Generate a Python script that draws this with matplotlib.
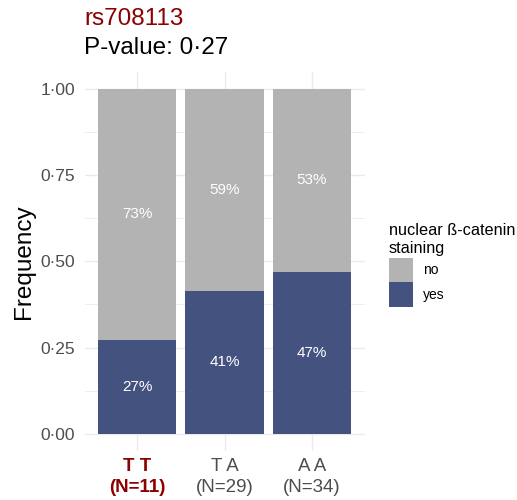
import numpy as np
import matplotlib.pyplot as plt
from matplotlib.patches import Patch
from matplotlib.ticker import FixedLocator

plt.rcParams['font.family'] = ['Liberation Sans', 'DejaVu Sans']

genotypes = ["T T", "T A", "A A"]
n_total = [11, 29, 34]
n_yes = [3, 12, 16]
snp = "rs708113"
p_value = 0.27

GREY = "#B3B3B3"
NAVY = "#44527F"
DARKRED = "#8B0000"
GRID = "#EBEBEB"

frac_yes = np.array(n_yes) / np.array(n_total)
frac_no = 1 - frac_yes
x = np.arange(1, len(genotypes) + 1)

fig = plt.figure(figsize=(5.17, 5.0), dpi=100)
ax = fig.add_axes([84.5 / 517, 49 / 500, 280 / 517, 379.25 / 500])

ax.bar(x, frac_yes, width=0.9, color=NAVY, zorder=2)
ax.bar(x, frac_no, bottom=frac_yes, width=0.9, color=GREY, zorder=2)

for xi, y, n in zip(x, frac_yes, frac_no):
    ax.text(xi, y / 2, f"{round(y * 100):.0f}%", ha="center", va="center",
            color="white", fontsize=11, zorder=3)
    ax.text(xi, y + n / 2, f"{round(n * 100):.0f}%", ha="center", va="center",
            color="white", fontsize=11, zorder=3)

ax.set_xlim(0.4, 3.6)
ax.set_ylim(-0.05, 1.05)
yt = [0, 0.25, 0.5, 0.75, 1.0]
ax.set_yticks(yt)
ax.set_yticklabels([f"{v:.2f}".replace(".", "\u00b7") for v in yt])
ax.yaxis.set_minor_locator(FixedLocator([0.125, 0.375, 0.625, 0.875]))
ax.set_xticks(x)
ax.set_xticklabels([f"{g}\n(N={n})" for g, n in zip(genotypes, n_total)])
ax.grid(True, which="major", color=GRID, lw=1.0, zorder=0)
ax.grid(True, which="minor", axis="y", color=GRID, lw=0.6, zorder=0)
ax.tick_params(which="both", length=0, labelcolor="#4D4D4D")
ax.tick_params(axis="y", labelsize=12.5, pad=7)
ax.tick_params(axis="x", labelsize=13.5, pad=5)
for s in ax.spines.values():
    s.set_visible(False)

lbl = ax.get_xticklabels()[0]
lbl.set_color(DARKRED)
lbl.set_fontweight("bold")
for t in ax.get_xticklabels():
    t.set_linespacing(1.3)

ax.set_ylabel("Frequency", fontsize=17.5, labelpad=4)

fig.text(84.5 / 517, 1 - 19 / 500, snp, color=DARKRED, fontsize=17.5, va="center")
fig.text(84.5 / 517, 1 - 48 / 500, f"P-value: {p_value:.2f}".replace(".", "\u00b7"),
         color="black", fontsize=17.5, va="center")

handles = [Patch(facecolor=GREY, label="no"), Patch(facecolor=NAVY, label="yes")]
leg = fig.legend(handles=handles, title="nuclear \u00df-catenin\nstaining",
                 loc="upper left", bbox_to_anchor=(383 / 517, 1 - 217 / 500),
                 frameon=False, fontsize=10, title_fontsize=11.7,
                 handlelength=1.75, handleheight=2.3, labelspacing=0.05,
                 handletextpad=0.75, alignment="left", borderaxespad=0)
leg.get_title().set_linespacing(1.25)
leg._legend_box.sep = 1.5

fig.savefig("out.png", dpi=100, facecolor="white")
